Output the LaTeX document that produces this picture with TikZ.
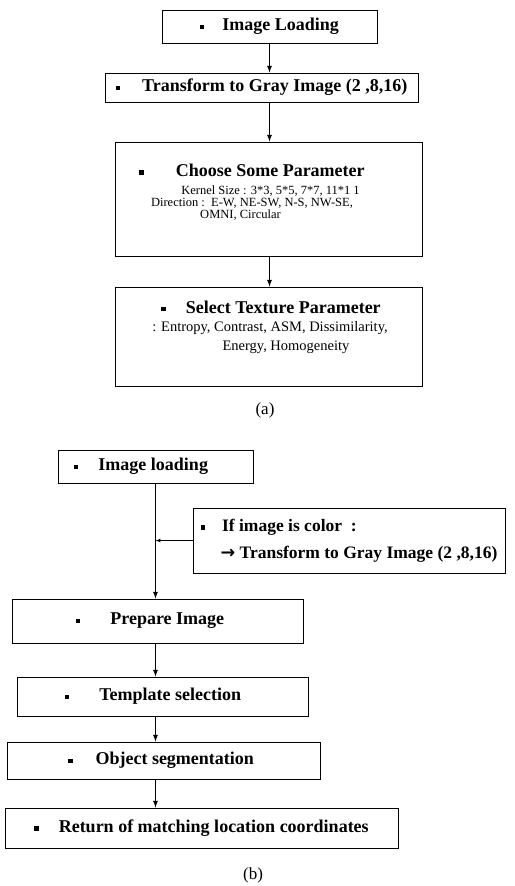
\documentclass[tikz,border=0pt]{standalone}
\usepackage{fontspec}
\setmainfont{Liberation Serif}
\newfontfamily\arrowfont{DejaVu Sans}
\usetikzlibrary{arrows}

\newcommand{\mysq}{\rule[0.2ex]{4.5pt}{4.5pt}}

\tikzset{
  box/.style = {draw, line width=1pt, inner sep=0pt,
    font=\fontsize{18}{21}\selectfont\bfseries},
  head/.style = {inner sep=0pt, font=\fontsize{18}{21}\selectfont\bfseries},
  body/.style = {inner sep=0pt, align=center},
  flow/.style = {line width=1.3pt, -latex},
  side/.style = {line width=0.7pt, -latex},
  caption/.style = {inner sep=0pt, font=\fontsize{17}{20}\selectfont}
}

\begin{document}
\begin{tikzpicture}[x=1pt, y=-1pt]
  \useasboundingbox (0,0) rectangle (514,886);

  % (a)
  \node[box, minimum width=215pt, minimum height=33pt] (load) at (269.5,26.5)
    {\mysq\hspace{18pt}Image Loading};
  \node[box, minimum width=313pt, minimum height=29pt] (gray) at (261.5,87.5)
    {\mysq\hspace{22pt}Transform to Gray Image (2 ,8,16)};
  \node[box, minimum width=307pt, minimum height=114pt] (param) at (268.5,199) {};
  \node[head] (paramhead) at (252,170) {\mysq\hspace{32pt}Choose Some Parameter};
  \node[body, font=\fontsize{12.5}{12}\selectfont] (paramtxt) at (252,203)
    {\hspace*{37pt}Kernel Size : 3*3, 5*5, 7*7, 11*1 1\\
     Direction :\ \ E-W, NE-SW, N-S, NW-SE,\\
     OMNI, Circular\hspace*{23pt}};
  \node[box, minimum width=307pt, minimum height=99pt] (texture) at (268.5,336.5) {};
  \node[head] (texturehead) at (271,307) {\mysq\hspace{20pt}Select Texture Parameter};
  \node[body, font=\fontsize{14.5}{19}\selectfont] (texturetxt) at (270,337.5)
    {: Entropy, Contrast, ASM, Dissimilarity,\\
     \hspace*{32pt}Energy, Homogeneity};
  \node[caption] (alabel) at (265,410) {(a)};

  \draw[flow] (load.south) -- (load.south |- gray.north);
  \draw[flow] (gray.south -| load.south) -- (load.south |- param.north);
  \draw[flow] (param.south -| load.south) -- (load.south |- texture.north);

  % (b)
  \node[box, minimum width=195pt, minimum height=33pt] (bload) at (155.5,466.5)
    {\mysq\hspace{20pt}Image loading\kern29pt};
  \node[box, minimum width=312pt, minimum height=65pt, align=left,
    font=\fontsize{17.5}{20}\selectfont\bfseries] (color) at (349,540.5)
    {\mysq\hspace{17pt}If image is color\ \ :\\[7pt]
     \hspace*{20pt}{\arrowfont\bfseries →} Transform to Gray Image (2 ,8,16)};
  \node[box, minimum width=291pt, minimum height=44pt] (prep) at (157.5,621)
    {\mysq\hspace{30pt}Prepare Image\kern15pt};
  \node[box, minimum width=291pt, minimum height=39pt] (tmpl) at (162.5,696.5)
    {\mysq\hspace{30pt}Template selection\kern19pt};
  \node[box, minimum width=313pt, minimum height=37pt] (seg) at (163.5,760.5)
    {\mysq\hspace{23pt}Object segmentation\kern5pt};
  \node[box, minimum width=393pt, minimum height=40pt] (ret) at (201.5,828)
    {\mysq\hspace{20pt}Return of matching location coordinates};
  \node[caption] (blabel) at (253,875) {(b)};

  \draw[flow] (bload.south) -- (bload.south |- prep.north);
  \draw[side] (color.west) -- (color.west -| bload.south);
  \draw[flow] (prep.south -| bload.south) -- (bload.south |- tmpl.north);
  \draw[flow] (tmpl.south -| bload.south) -- (bload.south |- seg.north);
  \draw[flow] (seg.south -| bload.south) -- (bload.south |- ret.north);
\end{tikzpicture}
\end{document}
